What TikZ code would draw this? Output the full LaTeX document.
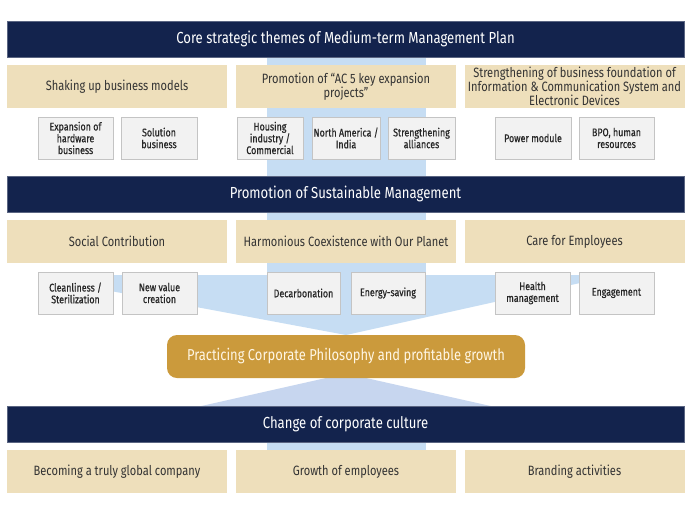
\documentclass[tikz,border=0pt]{standalone}
\usepackage{fontspec}
\setmainfont[FakeStretch=0.82]{Fira Sans}
\newfontfamily\itemfont[FakeStretch=0.8,FakeBold=0.6]{Fira Sans}
\definecolor{navy}{HTML}{13234D}
\definecolor{beige}{HTML}{EEDFBB}
\definecolor{grayfill}{HTML}{F2F2F2}
\definecolor{grayline}{HTML}{C4C4C4}
\definecolor{bandblue}{HTML}{C6DDF3}
\definecolor{funblue}{HTML}{C7D6EF}
\definecolor{gold}{HTML}{CB9A3C}
\definecolor{goldtext}{HTML}{FFF6E4}
\definecolor{txt}{HTML}{333333}
\definecolor{itemtxt}{HTML}{262626}
\begin{document}
\begin{tikzpicture}[x=1pt,y=-1pt,
  darkbar/.style={fill=navy, draw=navy!70!white, line width=0.4pt, text=white, minimum width=677pt, minimum height=36pt, inner sep=0pt, font=\fontsize{16}{18}\selectfont},
  theme/.style={fill=beige, text=txt, minimum width=220pt, minimum height=43pt, inner sep=0pt, align=center, font=\fontsize{13.5}{14.2}\selectfont},
  item/.style={fill=grayfill, draw=grayline, line width=0.8pt, text=itemtxt, minimum height=42pt, inner sep=0pt, align=center, font=\itemfont\fontsize{11.1}{11.8}\selectfont},
  goldbox/.style={fill=gold, rounded corners=10pt, text=goldtext, minimum width=358pt, minimum height=43pt, inner sep=0pt, font=\fontsize{15.8}{18}\selectfont}
]
\useasboundingbox (0,0) rectangle (698,517);
\fill[white] (0,0) rectangle (698,517);
% light blue background shapes
\fill[bandblue] (267,50) rectangle (426,300);
\fill[bandblue] (100,275) -- (580,275) -- (580,283) -- (346,335) -- (100,289) -- cycle;
\fill[funblue] (326,378) -- (366,378) -- (495,407) -- (197,407) -- cycle;
\fill[bandblue] (267,440) rectangle (426,452);

% section 1
\node[darkbar] (core) at (345.5,39) {Core strategic themes of Medium-term Management Plan};
\node[theme] (shake) at (117,86.5) {Shaking up business models};
\node[theme] (ac5) at (346,86.5) {Promotion of “AC 5 key expansion\\projects”};
\node[theme] (ict) at (574.5,86.5) {Strengthening of business foundation of\\Information \& Communication System and\\Electronic Devices};
\node[item, minimum width=75pt] (hw) at (75.5,138) {Expansion of\\hardware\\business};
\node[item, minimum width=76pt] (sol) at (159,138) {Solution\\business};
\node[item, minimum width=66pt] (house) at (270,138) {Housing\\industry /\\Commercial};
\node[item, minimum width=68pt] (na) at (346,138) {North America /\\India};
\node[item, minimum width=67pt] (alli) at (421.5,138) {Strengthening\\alliances};
\node[item, minimum width=76pt] (power) at (533,138) {Power module};
\node[item, minimum width=75pt] (bpo) at (616.5,138) {BPO, human\\resources};

% section 2
\node[darkbar] (sust) at (345.5,194) {Promotion of Sustainable Management};
\node[theme] (social) at (117,241.5) {Social Contribution};
\node[theme] (planet) at (346,241.5) {Harmonious Coexistence with Our Planet};
\node[theme] (care) at (574.5,241.5) {Care for Employees};
\node[item, minimum width=75pt] (clean) at (75.5,293) {Cleanliness /\\Sterilization};
\node[item, minimum width=75pt] (newval) at (159.5,293) {New value\\creation};
\node[item, minimum width=73pt] (decarb) at (303.5,293) {Decarbonation};
\node[item, minimum width=74pt] (energy) at (388,293) {Energy-saving};
\node[item, minimum width=75pt] (health) at (532.5,293) {Health\\management};
\node[item, minimum width=75pt] (engage) at (616.5,293) {Engagement};

% center
\node[goldbox] (phil) at (346,356.5) {Practicing Corporate Philosophy and profitable growth};

% section 3
\node[darkbar] (culture) at (345.5,424) {Change of corporate culture};
\node[theme] (global) at (117,471.5) {Becoming a truly global company};
\node[theme] (growth) at (346,471.5) {Growth of employees};
\node[theme] (brand) at (574.5,471.5) {Branding activities};
\end{tikzpicture}
\end{document}
